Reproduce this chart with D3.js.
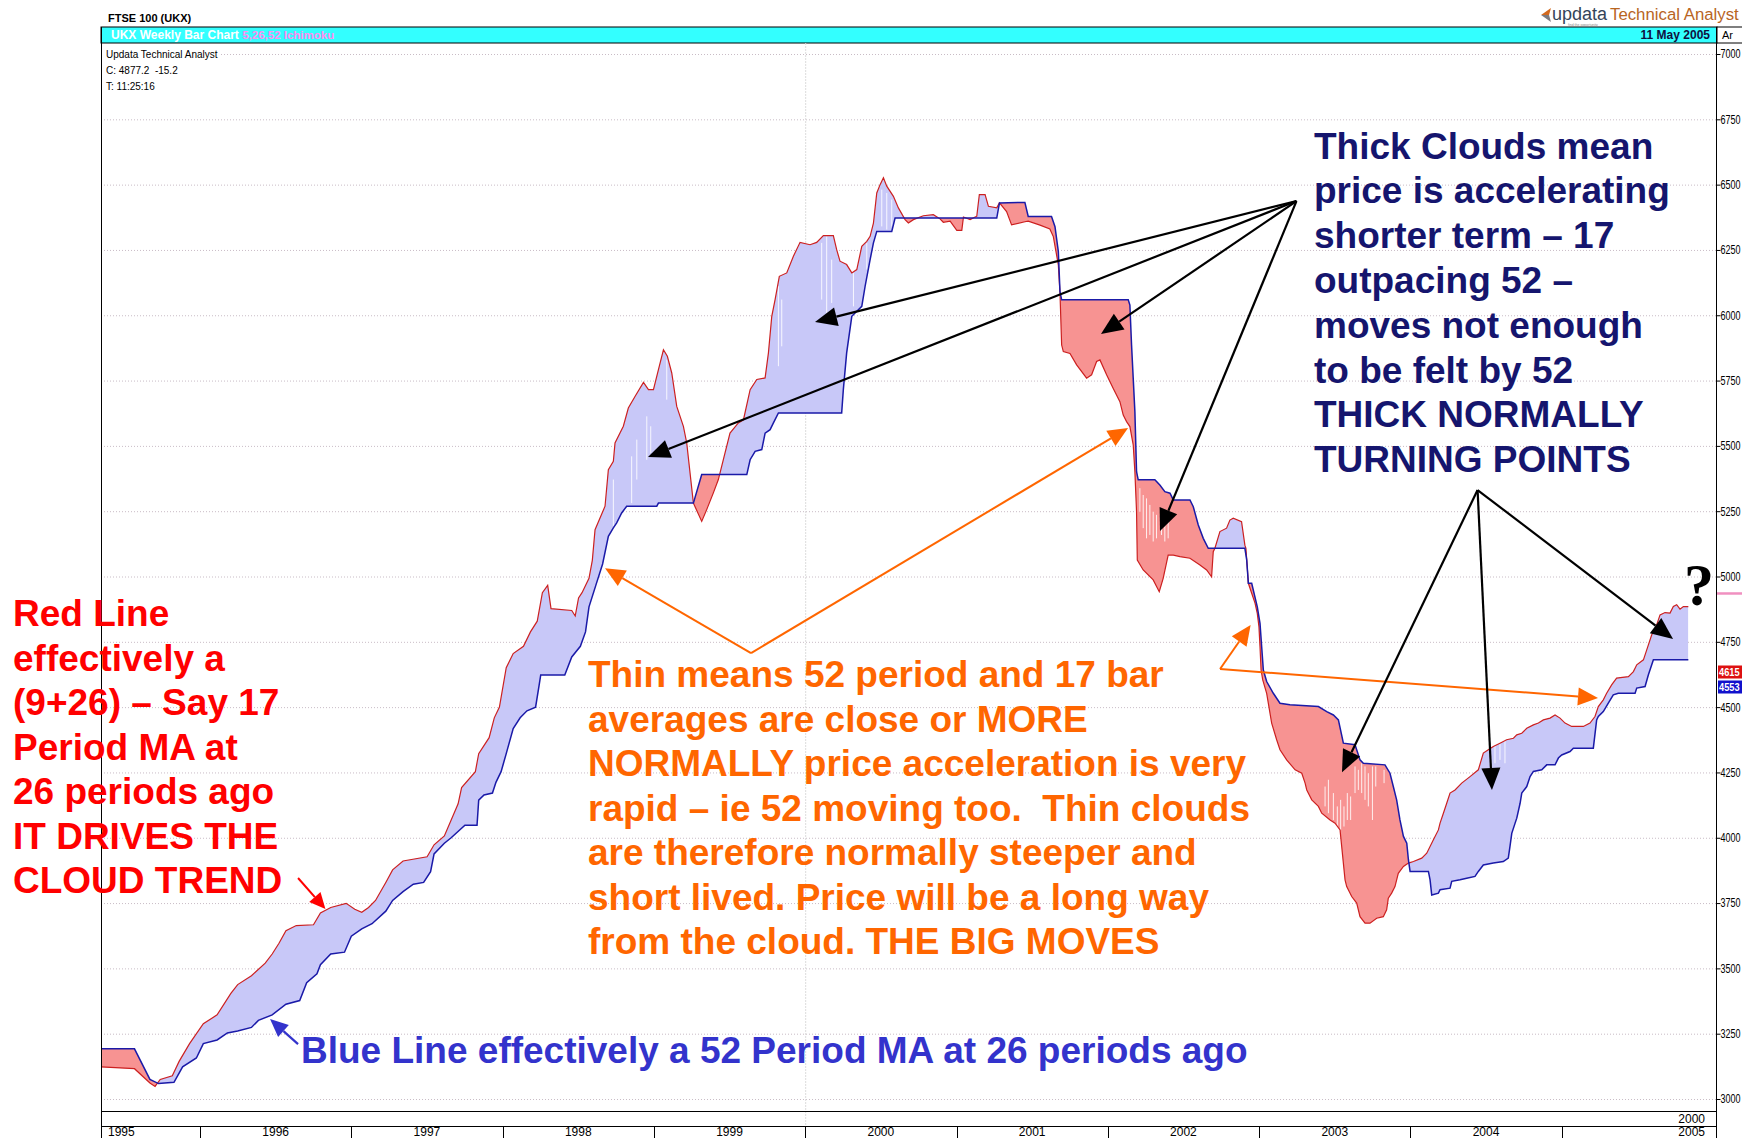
<!DOCTYPE html>
<html>
<head>
<meta charset="utf-8">
<script src="https://cdn.jsdelivr.net/npm/d3@7"></script>
<style>
  body { margin:0; background:#fff; overflow:hidden; }
  svg { display:block; font-family:"Liberation Sans", Arial, Helvetica, sans-serif; }
</style>
</head>
<body>
<svg id="chart" width="1742" height="1138"></svg>
<script>
// ---- data (decimal year, index level) ----
// Ichimoku "red" span (fast, shifted 26 weeks ahead)
const redSpan = [
  [1995.339,3123],[1995.567,3116],[1995.669,3061],[1995.703,3048],[1995.737,3075],[1995.817,3089],
  [1995.862,3144],[1995.931,3212],[1996.022,3288],[1996.113,3322],[1996.204,3404],[1996.249,3438],
  [1996.340,3472],[1996.431,3520],[1996.477,3555],[1996.522,3596],[1996.568,3644],[1996.636,3664],
  [1996.750,3667],[1996.796,3712],[1996.864,3733],[1996.966,3749],[1997.023,3726],[1997.069,3715],
  [1997.114,3733],[1997.160,3760],[1997.228,3829],[1997.273,3877],[1997.342,3911],[1997.501,3927],
  [1997.547,3973],[1997.615,4007],[1997.706,4130],[1997.729,4192],[1997.820,4253],[1997.842,4322],
  [1997.911,4383],[1997.945,4459],[1997.979,4500],[1998.024,4651],[1998.070,4705],[1998.138,4733],
  [1998.184,4788],[1998.229,4829],[1998.263,4938],[1998.298,4966],[1998.320,4877],[1998.457,4870],
  [1998.480,4849],[1998.502,4918],[1998.525,4938],[1998.571,4993],[1998.593,5062],[1998.611,5179],
  [1998.677,5269],[1998.699,5409],[1998.732,5441],[1998.743,5511],[1998.798,5575],[1998.831,5645],
  [1998.876,5690],[1998.931,5743],[1998.964,5715],[1998.997,5715],[1999.030,5792],[1999.063,5868],
  [1999.089,5843],[1999.118,5779],[1999.151,5651],[1999.195,5575],[1999.217,5511],[1999.261,5281],
  [1999.316,5211],[1999.349,5256],[1999.393,5320],[1999.426,5371],[1999.459,5447],[1999.503,5549],
  [1999.558,5588],[1999.592,5600],[1999.636,5715],[1999.680,5754],[1999.735,5760],[1999.757,5856],
  [1999.779,5996],[1999.801,6060],[1999.829,6149],[1999.878,6162],[1999.922,6226],[1999.966,6279],
  [2000.032,6270],[2000.076,6279],[2000.120,6305],[2000.186,6305],[2000.208,6251],[2000.230,6207],
  [2000.274,6194],[2000.308,6162],[2000.341,6175],[2000.374,6264],[2000.407,6283],[2000.429,6302],
  [2000.451,6353],[2000.473,6468],[2000.495,6500],[2000.517,6526],[2000.539,6494],[2000.583,6455],
  [2000.616,6411],[2000.660,6366],[2000.682,6353],[2000.715,6366],[2000.781,6381],[2000.847,6385],
  [2000.891,6369],[2000.913,6356],[2000.958,6360],[2001.002,6325],[2001.035,6325],[2001.046,6376],
  [2001.090,6366],[2001.134,6379],[2001.151,6462],[2001.189,6462],[2001.211,6417],[2001.266,6411],
  [2001.284,6430],[2001.331,6397],[2001.364,6346],[2001.452,6358],[2001.474,6360],[2001.552,6345],
  [2001.617,6330],[2001.640,6301],[2001.673,6193],[2001.684,6084],[2001.695,5886],[2001.706,5861],
  [2001.750,5854],[2001.794,5810],[2001.860,5759],[2001.893,5772],[2001.926,5823],[2001.948,5829],
  [2001.992,5772],[2002.036,5720],[2002.080,5669],[2002.102,5618],[2002.124,5593],[2002.146,5574],
  [2002.168,5504],[2002.179,5401],[2002.190,5248],[2002.195,5063],[2002.234,5025],[2002.300,4987],
  [2002.340,4942],[2002.366,4993],[2002.399,5082],[2002.433,5082],[2002.477,5076],[2002.543,5070],
  [2002.609,5044],[2002.653,5025],[2002.686,4999],[2002.697,5095],[2002.708,5108],[2002.741,5172],
  [2002.785,5185],[2002.807,5216],[2002.829,5223],[2002.884,5210],[2002.906,5120],[2002.913,5108],
  [2002.929,4974],[2002.951,4936],[2002.973,4898],[2002.988,4859],[2002.999,4808],[2003.006,4731],
  [2003.013,4642],[2003.024,4604],[2003.050,4553],[2003.083,4439],[2003.116,4375],[2003.138,4337],
  [2003.182,4298],[2003.238,4260],[2003.282,4247],[2003.304,4209],[2003.315,4183],[2003.348,4145],
  [2003.392,4120],[2003.414,4094],[2003.469,4068],[2003.502,4056],[2003.535,4030],[2003.546,3966],
  [2003.568,3839],[2003.579,3813],[2003.612,3775],[2003.645,3750],[2003.667,3698],[2003.700,3673],
  [2003.733,3673],[2003.777,3692],[2003.821,3698],[2003.843,3724],[2003.854,3769],[2003.876,3788],
  [2003.898,3813],[2003.920,3864],[2003.954,3890],[2003.987,3903],[2004.020,3909],[2004.075,3922],
  [2004.108,3941],[2004.152,3992],[2004.185,4030],[2004.196,4056],[2004.218,4094],[2004.240,4132],
  [2004.262,4171],[2004.295,4183],[2004.339,4209],[2004.394,4234],[2004.449,4260],[2004.482,4324],
  [2004.515,4337],[2004.548,4349],[2004.592,4362],[2004.636,4375],[2004.681,4381],[2004.703,4394],
  [2004.736,4400],[2004.769,4419],[2004.813,4432],[2004.846,4439],[2004.879,4451],[2004.923,4458],
  [2004.956,4470],[2004.989,4458],[2005.022,4439],[2005.066,4426],[2005.143,4426],[2005.187,4439],
  [2005.220,4464],[2005.242,4502],[2005.275,4528],[2005.297,4553],[2005.330,4585],[2005.363,4611],
  [2005.441,4617],[2005.474,4636],[2005.496,4662],[2005.540,4681],[2005.562,4719],[2005.595,4777],
  [2005.617,4796],[2005.650,4853],[2005.683,4862],[2005.716,4860],[2005.738,4885],[2005.760,4892],
  [2005.782,4875],[2005.804,4885],[2005.837,4885]
];

// Ichimoku "blue" span (52 period, shifted 26 weeks ahead)
const blueSpan = [
  [1995.339,3192],[1995.567,3192],[1995.669,3075],[1995.726,3059],[1995.828,3064],[1995.885,3123],
  [1995.976,3157],[1996.022,3212],[1996.113,3226],[1996.181,3253],[1996.249,3260],[1996.340,3274],
  [1996.386,3301],[1996.477,3322],[1996.568,3363],[1996.659,3377],[1996.705,3445],[1996.773,3479],
  [1996.796,3514],[1996.864,3555],[1996.955,3562],[1997.000,3623],[1997.069,3651],[1997.137,3671],
  [1997.228,3719],[1997.273,3760],[1997.342,3794],[1997.410,3822],[1997.478,3829],[1997.524,3870],
  [1997.547,3938],[1997.615,3979],[1997.660,4000],[1997.751,4048],[1997.831,4048],[1997.842,4144],
  [1997.877,4164],[1997.933,4171],[1997.956,4212],[1997.990,4253],[1998.024,4322],[1998.070,4418],
  [1998.116,4459],[1998.161,4486],[1998.218,4500],[1998.241,4582],[1998.252,4623],[1998.411,4623],
  [1998.457,4692],[1998.514,4733],[1998.548,4788],[1998.571,4884],[1998.616,4966],[1998.661,5048],
  [1998.699,5154],[1998.732,5186],[1998.754,5205],[1998.787,5243],[1998.820,5269],[1999.019,5269],
  [1999.030,5281],[1999.261,5281],[1999.316,5390],[1999.614,5390],[1999.636,5447],[1999.669,5479],
  [1999.713,5486],[1999.735,5549],[1999.768,5562],[1999.790,5588],[1999.823,5626],[2000.241,5626],
  [2000.252,5715],[2000.274,5856],[2000.308,5996],[2000.341,6015],[2000.374,6034],[2000.396,6111],
  [2000.429,6213],[2000.451,6277],[2000.473,6321],[2000.572,6321],[2000.594,6372],[2001.266,6372],
  [2001.284,6430],[2001.452,6432],[2001.474,6378],[2001.628,6378],[2001.651,6339],[2001.673,6244],
  [2001.684,6090],[2001.695,6059],[2002.135,6059],[2002.146,6039],[2002.157,5886],[2002.168,5759],
  [2002.179,5631],[2002.190,5401],[2002.201,5370],[2002.311,5370],[2002.344,5350],[2002.377,5325],
  [2002.411,5319],[2002.433,5293],[2002.543,5293],[2002.565,5267],[2002.598,5197],[2002.631,5146],
  [2002.664,5108],[2002.906,5108],[2002.918,5064],[2002.929,4974],[2002.951,4974],[2002.988,4884],
  [2003.006,4821],[2003.017,4731],[2003.028,4642],[2003.050,4598],[2003.094,4553],[2003.138,4515],
  [2003.204,4509],[2003.392,4502],[2003.447,4483],[2003.491,4470],[2003.524,4451],[2003.557,4362],
  [2003.634,4356],[2003.667,4298],[2003.689,4285],[2003.832,4279],[2003.865,4247],[2003.887,4196],
  [2003.909,4145],[2003.931,4068],[2003.954,4005],[2003.976,3979],[2003.987,3915],[2003.998,3871],
  [2004.119,3871],[2004.130,3839],[2004.141,3781],[2004.185,3788],[2004.196,3801],[2004.262,3807],
  [2004.273,3833],[2004.328,3839],[2004.372,3845],[2004.427,3852],[2004.449,3871],[2004.482,3896],
  [2004.548,3903],[2004.614,3909],[2004.647,3922],[2004.658,3966],[2004.670,4017],[2004.692,4056],
  [2004.703,4075],[2004.725,4132],[2004.736,4171],[2004.769,4196],[2004.791,4234],[2004.813,4254],
  [2004.868,4260],[2004.901,4279],[2004.956,4279],[2004.978,4305],[2005.000,4317],[2005.055,4330],
  [2005.077,4343],[2005.209,4343],[2005.231,4451],[2005.242,4464],[2005.275,4483],[2005.308,4515],
  [2005.341,4547],[2005.374,4553],[2005.485,4553],[2005.496,4573],[2005.551,4579],[2005.573,4624],
  [2005.606,4681],[2005.837,4681]
];

// white weekly price bars, only where they show over the cloud: [year, high, low]
const priceBars = [
  [1998.732,5371,5192],[1998.853,5460,5281],[1998.887,5524,5371],[1998.953,5613,5447],[1998.979,5575,5473],
  [1999.085,5830,5677],[1999.823,6111,5805],[1999.845,6060,5881],[2000.109,6277,6060],[2000.142,6302,6009],
  [2000.175,6213,6047],[2000.319,6162,6034],[2000.407,6277,6175],[2000.506,6481,6340],[2000.539,6468,6328],
  [2000.572,6443,6340],
  [2002.212,5338,5248],[2002.234,5312,5185],[2002.256,5299,5146],[2002.278,5274,5159],[2002.300,5248,5134],
  [2002.322,5236,5146],[2002.355,5210,5159],[2002.377,5197,5134],[2002.399,5248,5146],
  [2003.436,4196,4120],[2003.458,4222,4094],[2003.491,4171,4068],[2003.517,4120,4043],[2003.539,4145,4030],
  [2003.561,4120,4043],[2003.583,4171,4068],[2003.605,4158,4068],[2003.634,4273,4171],[2003.656,4260,4183],
  [2003.678,4285,4171],[2003.700,4273,4145],[2003.722,4247,4120],[2003.749,4273,4068],[2003.771,4273,4196],
  [2003.826,4260,4209],[2004.559,4362,4285],[2004.592,4368,4298],[2004.625,4375,4285]
];

const priceTicks = [3000,3250,3500,3750,4000,4250,4500,4750,5000,5250,5500,5750,6000,6250,6500,6750,7000];
const yearBoundaries = [1996,1997,1998,1999,2000,2001,2002,2003,2004,2005];
const yearLabels = [1995,1996,1997,1998,1999,2000,2001,2002,2003,2004,2005];
const lastValues = [{label:"4615", value:4615, color:"#dd1111"}, {label:"4553", value:4553, color:"#1111cc"}];
const priceMarker = 4935;

// annotation text
const redNote = ["Red Line","effectively a","(9+26) \u2013 Say 17","Period MA at","26 periods ago","IT DRIVES THE","CLOUD TREND"];
const blueNote = ["Blue Line effectively a 52 Period MA at 26 periods ago"];
const orangeNote = ["Thin means 52 period and 17 bar","averages are close or MORE","NORMALLY price acceleration is very",
  "rapid \u2013 ie 52 moving too.  Thin clouds","are therefore normally steeper and","short lived. Price will be a long way",
  "from the cloud. THE BIG MOVES"];
const navyNote = ["Thick Clouds mean","price is accelerating","shorter term \u2013 17","outpacing 52 \u2013",
  "moves not enough","to be felt by 52","THICK NORMALLY","TURNING POINTS"];

// arrow fans: a start point and the tips it points at (decimal year, level)
const blackFanTop = {from:[2003.247,6437], to:[[2000.065,5974],[1998.961,5457],[2001.955,5928],[2002.345,5174]]};
const blackFanLow = {from:[2004.444,5331], to:[[2003.548,4251],[2004.539,4183],[2005.736,4761]]};
const orangeFanLeft = {from:[1999.642,4707], to:[[1998.677,5032],[2002.134,5568]]};
const orangeFanRight = {from:[2002.742,4646], to:[[2002.944,4814],[2005.240,4535]]};
const redPointer = {from:[1996.648,3846], to:[[1996.829,3727]]};
const bluePointer = {from:[1996.648,3210], to:[[1996.463,3306]]};

// ---- layout ----
const W = 1742, H = 1138;
const plot = {left:101, right:1716, top:43, bottom:1111};
const colours = {
  cyan:"#33ffff", lavender:"#c8c8f8", salmon:"#f79392", redLine:"#cc2020", blueLine:"#1a1aa8",
  grid:"#c9bcc6", redText:"#ff0000", blueText:"#3333cc", orange:"#ff6600", navy:"#15156e"
};

const svg = d3.select("#chart");
svg.append("rect").attr("width",W).attr("height",H).attr("fill","#fff");

const x = d3.scaleLinear().domain([1996,2005]).range([200,1561.7]);
const y = d3.scaleLinear().domain([3000,7000]).range([1099,54]);
const pt = d => [x(d[0]), y(d[1])];

//----------------------------------------
// header
svg.append("text").attr("x",108).attr("y",22).attr("font-size",11).attr("font-weight","bold")
  .text("FTSE 100 (UKX)");

svg.append("rect").attr("x",plot.left).attr("y",27).attr("width",plot.right-plot.left+1).attr("height",16)
  .attr("fill",colours.cyan).attr("stroke","#000").attr("stroke-width",1);
svg.append("rect").attr("x",plot.right+1).attr("y",27).attr("width",40).attr("height",16)
  .attr("fill","#fff").attr("stroke","#000").attr("stroke-width",1);
svg.append("text").attr("x",1722).attr("y",39).attr("font-size",11).text("Ar");

const barTitle = svg.append("text").attr("x",111).attr("y",39).attr("font-size",12).attr("font-weight","bold");
barTitle.append("tspan").attr("fill","#fff").text("UKX Weekly Bar Chart ");
barTitle.append("tspan").attr("fill","#ff8cf0").attr("font-size",11.5).text(" 5,26,52 Ichimoku");
svg.append("text").attr("x",1710).attr("y",39).attr("font-size",12).attr("font-weight","bold")
  .attr("text-anchor","end").attr("fill","#101040").text("11 May 2005");

// logo
svg.append("path").attr("d","M1541,15L1551,8L1549,15Z").attr("fill","#d2691e");
svg.append("path").attr("d","M1541,15L1551,22L1549,15Z").attr("fill","#7a7a80");
svg.append("text").attr("x",1552).attr("y",20).attr("font-size",18).attr("fill","#34455a").text("updata");
svg.append("text").attr("x",1610).attr("y",20).attr("font-size",16.8).attr("fill","#b8651f").text("Technical Analyst");
svg.append("text").attr("x",1568).attr("y",26).attr("font-size",3.5).attr("fill","#888").text("find the opportunity");

//----------------------------------------
// grid
const gridG = svg.append("g");
gridG.selectAll("line.h").data(priceTicks).enter().append("line")
  .attr("x1",plot.left).attr("x2",plot.right)
  .attr("y1",d=>y(d)+0.5).attr("y2",d=>y(d)+0.5)
  .attr("stroke",colours.grid).attr("stroke-width",1).attr("stroke-dasharray","1,2");
gridG.append("line").attr("x1",x(2000)+0.5).attr("x2",x(2000)+0.5).attr("y1",plot.top).attr("y2",1126)
  .attr("stroke","#dcdcdc").attr("stroke-width",1).attr("stroke-dasharray","2,1");

// info texts top-left
const info = svg.append("g").attr("font-size",10);
info.append("rect").attr("x",104).attr("y",47).attr("width",117).attr("height",13).attr("fill","#fff");
info.append("text").attr("x",106).attr("y",58).text("Updata Technical Analyst");
info.append("text").attr("x",106).attr("y",74).style("white-space","pre").text("C: 4877.2  -15.2");
info.append("text").attr("x",106).attr("y",90).text("T: 11:25:16");

//----------------------------------------
// cloud
const defs = svg.append("defs");
defs.append("clipPath").attr("id","plotClip").append("rect")
  .attr("x",plot.left).attr("y",plot.top).attr("width",plot.right-plot.left).attr("height",plot.bottom-plot.top);
const aboveBlue = d3.area().x(d=>x(d[0])).y0(plot.top).y1(d=>y(d[1]));
const belowBlue = d3.area().x(d=>x(d[0])).y0(plot.bottom).y1(d=>y(d[1]));
defs.append("clipPath").attr("id","clipAbove").append("path").attr("d",aboveBlue(blueSpan));
defs.append("clipPath").attr("id","clipBelow").append("path").attr("d",belowBlue(blueSpan));

const cloudPts = redSpan.map(pt).concat(blueSpan.slice().reverse().map(pt));
const cloudPath = "M" + cloudPts.map(p=>p.join(",")).join("L") + "Z";
defs.append("clipPath").attr("id","clipCloud").append("path").attr("d",cloudPath);

const cloudG = svg.append("g").attr("clip-path","url(#plotClip)");
cloudG.append("g").attr("clip-path","url(#clipAbove)").append("path")
  .attr("d",cloudPath).attr("fill",colours.lavender);
cloudG.append("g").attr("clip-path","url(#clipBelow)").append("path")
  .attr("d",cloudPath).attr("fill",colours.salmon);

// price bars (white) only visible over the cloud
cloudG.append("g").attr("clip-path","url(#clipCloud)")
  .selectAll("line").data(priceBars).enter().append("line")
  .attr("x1",d=>x(d[0])).attr("x2",d=>x(d[0]))
  .attr("y1",d=>y(d[1])).attr("y2",d=>y(d[2]))
  .attr("stroke","#fff").attr("stroke-width",1).attr("stroke-opacity",0.85);

const line = d3.line().x(d=>x(d[0])).y(d=>y(d[1]));
cloudG.append("path").attr("d",line(redSpan)).attr("fill","none")
  .attr("stroke",colours.redLine).attr("stroke-width",1.2);
cloudG.append("path").attr("d",line(blueSpan)).attr("fill","none")
  .attr("stroke",colours.blueLine).attr("stroke-width",1.5);

//----------------------------------------
// frame, right axis, year rows
const frame = svg.append("g").attr("stroke","#000").attr("stroke-width",1);
frame.append("line").attr("x1",plot.left+0.5).attr("x2",plot.left+0.5).attr("y1",27).attr("y2",H);
frame.append("line").attr("x1",plot.right+0.5).attr("x2",plot.right+0.5).attr("y1",27).attr("y2",H);
frame.append("line").attr("x1",plot.left).attr("x2",plot.right).attr("y1",plot.bottom+0.5).attr("y2",plot.bottom+0.5);
frame.append("line").attr("x1",plot.left).attr("x2",plot.right).attr("y1",1126.5).attr("y2",1126.5);

const yAxis = d3.axisRight(y).tickValues(priceTicks).tickSize(4).tickPadding(0).tickFormat(d3.format("d"));
const axisG = svg.append("g").attr("transform",`translate(${plot.right+0.5},0)`).call(yAxis);
axisG.select(".domain").remove();
// small font stretched upward so the four digits fit in the strip beside the axis
axisG.selectAll("text").attr("font-size",9).attr("font-family","'Liberation Sans', Arial, sans-serif")
  .attr("fill","#000").attr("transform","scale(1,1.35)");
axisG.selectAll("line").attr("stroke","#000");

// year separators + labels
const yearG = svg.append("g").attr("font-size",12);
yearG.selectAll("line").data(yearBoundaries).enter().append("line")
  .attr("x1",d=>Math.round(x(d))+0.5).attr("x2",d=>Math.round(x(d))+0.5)
  .attr("y1",1126).attr("y2",H).attr("stroke","#000");
yearG.selectAll("text").data(yearLabels).enter().append("text")
  .attr("x",d=> d===1995 ? plot.left+7 : d===2005 ? 1705 : x(d+0.5))
  .attr("y",1135.5)
  .attr("text-anchor",d=> d===1995 ? "start" : d===2005 ? "end" : "middle")
  .text(d=>d);
svg.append("text").attr("x",1705).attr("y",1123).attr("font-size",12).attr("text-anchor","end").text("2000");

// last value tags + price marker
svg.append("line").attr("x1",plot.right+1).attr("x2",W).attr("y1",y(priceMarker)).attr("y2",y(priceMarker))
  .attr("stroke","#f090c0").attr("stroke-width",2.5);
const tagY = [672, 687];
lastValues.forEach((t,i)=>{
  svg.append("rect").attr("x",plot.right+2).attr("y",tagY[i]-6.5).attr("width",30).attr("height",13).attr("fill",t.color);
  svg.append("text").attr("transform",`translate(${plot.right+3},${tagY[i]+4}) scale(1,1.2)`)
    .attr("font-size",9.3).attr("font-weight","bold").attr("fill","#fff").text(t.label);
});

//----------------------------------------
// annotations
const noteG = svg.append("g").attr("font-weight","bold").attr("font-size",37);
function block(lines, x0, baseline, step, colour){
  noteG.append("g").selectAll("text").data(lines).enter().append("text")
    .attr("x",x0).attr("y",(d,i)=>baseline + i*step).attr("fill",colour)
    .style("white-space","pre").text(d=>d);
}
block(redNote, 13, 626, 44.5, colours.redText);
block(orangeNote, 588, 687, 44.5, colours.orange);
block(navyNote, 1314, 158.5, 44.8, colours.navy);
block(blueNote, 301, 1063, 0, colours.blueText);

svg.append("text").attr("x",1684).attr("y",605).attr("font-family","'Liberation Serif', 'Times New Roman', serif")
  .attr("font-weight","bold").attr("font-size",60).text("?");

function drawArrow(g, p0, p1, colour, width, headLen, headW){
  const ang = Math.atan2(p1[1]-p0[1], p1[0]-p0[0]);
  const bx = p1[0]-headLen*Math.cos(ang), by = p1[1]-headLen*Math.sin(ang);
  const nx = -Math.sin(ang)*headW/2, ny = Math.cos(ang)*headW/2;
  g.append("line").attr("x1",p0[0]).attr("y1",p0[1]).attr("x2",bx).attr("y2",by)
    .attr("stroke",colour).attr("stroke-width",width);
  g.append("path").attr("d",`M${p1[0]},${p1[1]}L${bx+nx},${by+ny}L${bx-nx},${by-ny}Z`).attr("fill",colour);
}
function drawFan(fan, colour, width, headLen, headW){
  const g = svg.append("g");
  fan.to.forEach(t => drawArrow(g, pt(fan.from), pt(t), colour, width, headLen, headW));
}
drawFan(orangeFanLeft, colours.orange, 2, 20, 18);
drawFan(orangeFanRight, colours.orange, 2, 20, 18);
drawFan(blackFanTop, "#000", 2.2, 22, 19);
drawFan(blackFanLow, "#000", 2.2, 22, 19);
drawFan(redPointer, "#ff0000", 2, 16, 15);
drawFan(bluePointer, colours.blueText, 2.2, 18, 16);
</script>
</body>
</html>
